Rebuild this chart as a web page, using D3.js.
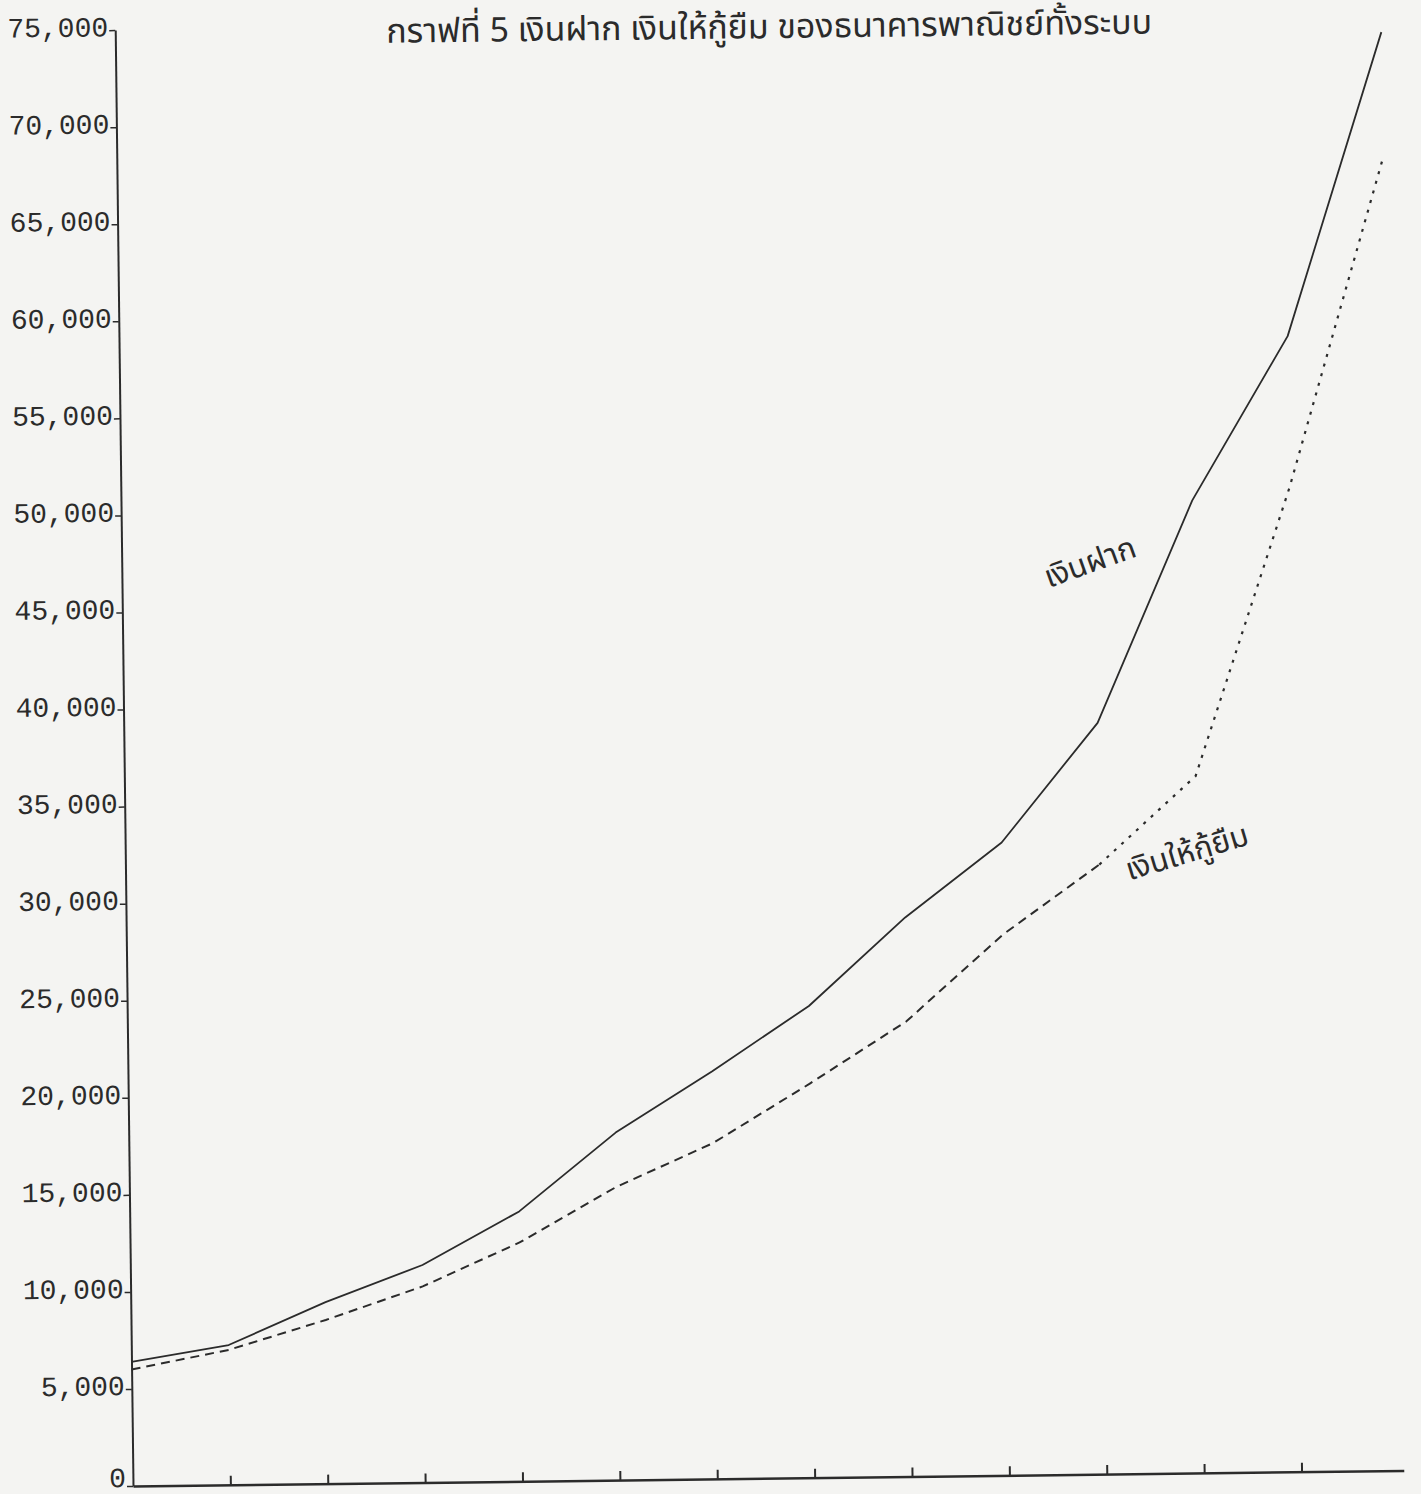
<!DOCTYPE html>
<html>
<head>
<meta charset="utf-8">
<script src="https://cdn.jsdelivr.net/npm/d3@7"></script>
<style>
    body { margin: 0; background: #f4f4f2; }
    svg { display: block; }
    .axis text { font-family: "Liberation Mono", "DejaVu Sans Mono", monospace; fill: #2b2b2b; }
    .thai { font-family: "Noto Sans Thai", "Noto Sans", "DejaVu Sans", sans-serif; fill: #2b2b2b; }
</style>
</head>
<body>
<div class="chart"></div>
<script>

// 14 periods along the x axis (no labels printed on the original)
const periods = [0, 1, 2, 3, 4, 5, 6, 7, 8, 9, 10, 11, 12, 13];
const tickPeriods = [1, 2, 3, 4, 5, 6, 7, 8, 9, 10, 11, 12];

// deposits (เงินฝาก) and loans (เงินให้กู้ยืม)
const deposits = [6400, 7200, 9350, 11200, 13900, 17900, 21000, 24300, 28800, 32600, 38700, 50100, 58500, 74100];
const loans = [6000, 6950, 8430, 10100, 12300, 15100, 17300, 20300, 23450, 27850, 31400, 35900, 50700, 67600];

const yTicks = [0, 5000, 10000, 15000, 20000, 25000, 30000, 35000, 40000, 45000, 50000, 55000, 60000, 65000, 70000, 75000];

const title = "กราฟที่ 5 เงินฝาก เงินให้กู้ยืม ของธนาคารพาณิชย์ทั้งระบบ";
const depositLabel = "เงินฝาก";
const loanLabel = "เงินให้กู้ยืม";

const width = 1421, height = 1494;
const paper = "#f4f4f2";
const ink = "#2b2b2b";

const svg = d3.select(".chart").append("svg")
    .attr("width", width)
    .attr("height", height);

svg.append("rect")
    .attr("width", width)
    .attr("height", height)
    .attr("fill", paper);

// scales
const x = d3.scaleLinear().domain([0, 13]).range([133, 1399]);
const y = d3.scaleLinear().domain([0, 75000]).range([1486, 30]);

// the scanned page sits a little crooked
const g = svg.append("g")
    .attr("transform", `rotate(-0.7, ${x(0)}, ${y(0)})`);

// title
const titleText = g.append("text")
    .attr("class", "thai")
    .attr("x", 787)
    .attr("y", 46)
    .attr("text-anchor", "middle")
    .attr("font-size", 28)
    .text(title);
const tl = titleText.node().getComputedTextLength();
titleText.attr("font-size", 28 * 766 / tl);

// y axis
const yAxis = d3.axisLeft(y)
    .tickValues(yTicks)
    .tickSize(6)
    .tickSizeOuter(0)
    .tickPadding(1)
    .tickFormat(d => d === 0 ? "0" : d3.format(",")(d));

g.append("g")
    .attr("class", "axis y-axis")
    .attr("transform", `translate(${x(0)},0)`)
    .call(yAxis)
    .call(g => g.select(".domain").attr("stroke", ink).attr("stroke-width", 2))
    .call(g => g.selectAll(".tick line").attr("stroke", ink).attr("stroke-width", 1.5))
    .call(g => g.selectAll(".tick text")
        .attr("font-size", 28)
        .attr("dy", d => d === 0 ? "0.02em" : "0.2em"));

// x axis, ticks point up, no labels
const xAxisScale = x.copy().domain([0, 13.05]).range([x(0), x(13.05)]);
const xAxis = d3.axisBottom(xAxisScale)
    .tickValues(tickPeriods)
    .tickSize(-9)
    .tickSizeOuter(0)
    .tickFormat("");

g.append("g")
    .attr("class", "axis x-axis")
    .attr("transform", `translate(0,${y(0)})`)
    .call(xAxis)
    .call(g => g.select(".domain").attr("stroke", ink).attr("stroke-width", 2.5))
    .call(g => g.selectAll(".tick line").attr("stroke", ink).attr("stroke-width", 2));

// lines
const line = d3.line()
    .x(d => x(d[0]))
    .y(d => y(d[1]));

const depositPts = periods.map((p, i) => [p, deposits[i]]);
const loanPts = periods.map((p, i) => [p, loans[i]]);

g.append("path")
    .datum(depositPts)
    .attr("fill", "none")
    .attr("stroke", ink)
    .attr("stroke-width", 1.8)
    .attr("stroke-linejoin", "round")
    .attr("d", line);

// loans: dashed low part, dotted where it climbs
g.append("path")
    .datum(loanPts.slice(0, 11))
    .attr("fill", "none")
    .attr("stroke", ink)
    .attr("stroke-width", 2)
    .attr("stroke-dasharray", "9,6")
    .attr("d", line);

g.append("path")
    .datum(loanPts.slice(10))
    .attr("fill", "none")
    .attr("stroke", ink)
    .attr("stroke-width", 2.2)
    .attr("stroke-dasharray", "3,7")
    .attr("d", line);

// series labels
g.append("text")
    .attr("class", "thai")
    .attr("transform", `translate(${x(9.94)},${y(47000)}) rotate(-19)`)
    .attr("text-anchor", "middle")
    .attr("dy", "0.35em")
    .attr("font-size", 31)
    .text(depositLabel)
    .call(halo);

g.append("text")
    .attr("class", "thai")
    .attr("transform", `translate(${x(10.9)},${y(32000)}) rotate(-16)`)
    .attr("text-anchor", "middle")
    .attr("dy", "0.35em")
    .attr("font-size", 31)
    .text(loanLabel)
    .call(halo);

function halo(text) {
    text
      .select(function() {
        return this.parentNode.insertBefore(this.cloneNode(true), this);
      })
      .attr("fill", "none")
      .attr("stroke", paper)
      .attr("stroke-width", 8)
      .attr("stroke-linejoin", "round");
}

</script>
</body>
</html>
